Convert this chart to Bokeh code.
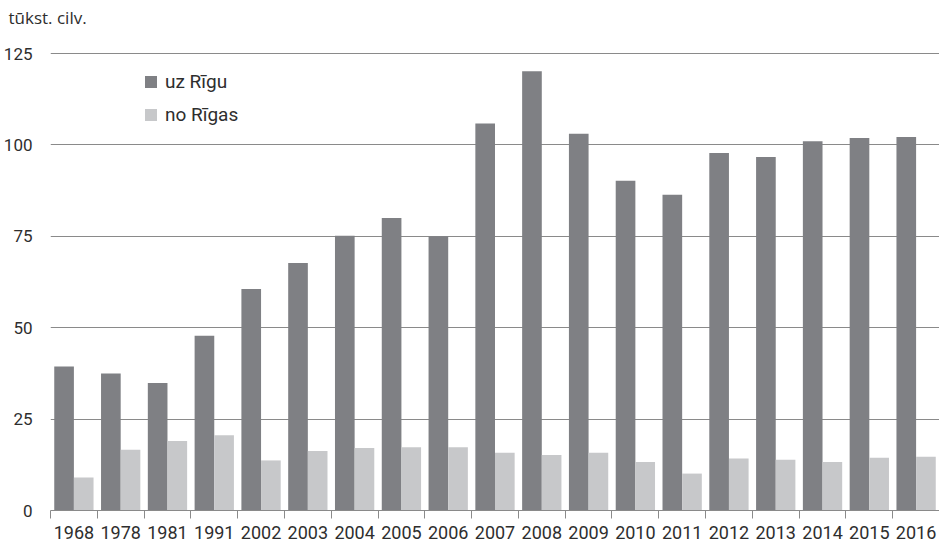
from bokeh.plotting import figure
from bokeh.models import (Range1d, FixedTicker, CustomJSTickFormatter, Legend,
                          LegendItem, ColumnDataSource, Title)
from bokeh.transform import dodge
from bokeh.embed import file_html
from bokeh.resources import INLINE

# ---- data ----
years = ["1968", "1978", "1981", "1991", "2002", "2003", "2004", "2005", "2006",
         "2007", "2008", "2009", "2010", "2011", "2012", "2013", "2014", "2015", "2016"]
uz_rigu = [39.4, 37.5, 34.9, 47.8, 60.6, 67.7, 75.2, 80.0, 75.0,
           105.9, 120.2, 103.1, 90.2, 86.4, 97.8, 96.7, 101.0, 101.9, 102.2]
no_rigas = [9.0, 16.6, 19.0, 20.6, 13.7, 16.3, 17.1, 17.3, 17.3,
            15.8, 15.2, 15.8, 13.3, 10.1, 14.2, 13.9, 13.3, 14.4, 14.7]
y_ticks = [0, 25, 50, 75, 100, 125]
unit_label = "tūkst. cilv."
series_names = ["uz Rīgu", "no Rīgas"]

DARK = "#7f8084"
LIGHT = "#c7c8ca"
GRID = "#8a8a8a"
TEXT = "#2e2e2e"

pos = [i + 0.5 for i in range(len(years))]
src = ColumnDataSource(dict(pos=pos, year=years, uz=uz_rigu, no=no_rigas))

FH = 458
p = figure(frame_width=889, frame_height=FH,
           x_range=Range1d(0, len(years)), y_range=Range1d(0, y_ticks[-1] + 0.3),
           output_backend="svg", toolbar_location=None,
           min_border_left=42, min_border_right=0, min_border_top=0, min_border_bottom=0)

r1 = p.vbar(x=dodge("pos", -0.21, range=p.x_range), top="uz", width=0.42,
            source=src, fill_color=DARK, line_color=None)
r2 = p.vbar(x=dodge("pos", 0.21, range=p.x_range), top="no", width=0.42,
            source=src, fill_color=LIGHT, line_color=None)

p.outline_line_color = None
p.background_fill_color = "white"
p.border_fill_color = "white"

# grid
p.xgrid.visible = False
p.ygrid.ticker = FixedTicker(ticks=y_ticks)
p.ygrid.grid_line_color = GRID
p.ygrid.grid_line_width = 1
p.ygrid.level = "underlay"

# y axis
p.yaxis.ticker = FixedTicker(ticks=y_ticks)
p.yaxis.axis_line_color = None
p.yaxis.major_tick_line_color = None
p.yaxis.minor_tick_line_color = None
p.yaxis.major_label_standoff = 12
p.yaxis.major_label_text_font = "Roboto"
p.yaxis.major_label_text_font_size = "17px"
p.yaxis.major_label_text_color = TEXT

# x axis: labels at centers, ticks at boundaries
p.xaxis.ticker = FixedTicker(ticks=pos, minor_ticks=list(range(len(years) + 1)))
p.xaxis.formatter = CustomJSTickFormatter(args=dict(labels=years),
                                          code="return labels[Math.floor(tick)];")
p.xaxis.axis_line_color = GRID
p.xaxis.axis_line_width = 1
p.xaxis.major_tick_line_color = None
p.xaxis.major_tick_out = 0
p.xaxis.major_tick_in = 0
p.xaxis.minor_tick_line_color = GRID
p.xaxis.minor_tick_out = 8
p.xaxis.minor_tick_in = 0
p.xaxis.major_label_standoff = 7
p.xaxis.major_label_text_font = "Roboto"
p.xaxis.major_label_text_font_size = "18px"
p.xaxis.major_label_text_color = TEXT

# spacer between the unit label and the plot frame
p.add_layout(Title(text=" ", text_font_size="17px", standoff=0), "above")

# unit label (top-left)
p.title.text = unit_label
p.title.text_font = "Open Sans"
p.title.text_font_size = "17px"
p.title.text_font_style = "normal"
p.title.text_color = TEXT
p.title.align = "left"
p.title.offset = -42
p.title.standoff = 6

# legend
legend = Legend(items=[LegendItem(label=series_names[0], renderers=[r1]),
                       LegendItem(label=series_names[1], renderers=[r2])],
                location=(93, FH - 24 - 50),
                glyph_width=15, glyph_height=15, label_height=15,
                spacing=10, padding=0, margin=0, label_standoff=7,
                border_line_color=None, background_fill_alpha=0,
                label_text_font="Roboto", label_text_font_size="19px",
                label_text_color=TEXT)
p.add_layout(legend)

open("out.html", "w").write(file_html(p, INLINE))
